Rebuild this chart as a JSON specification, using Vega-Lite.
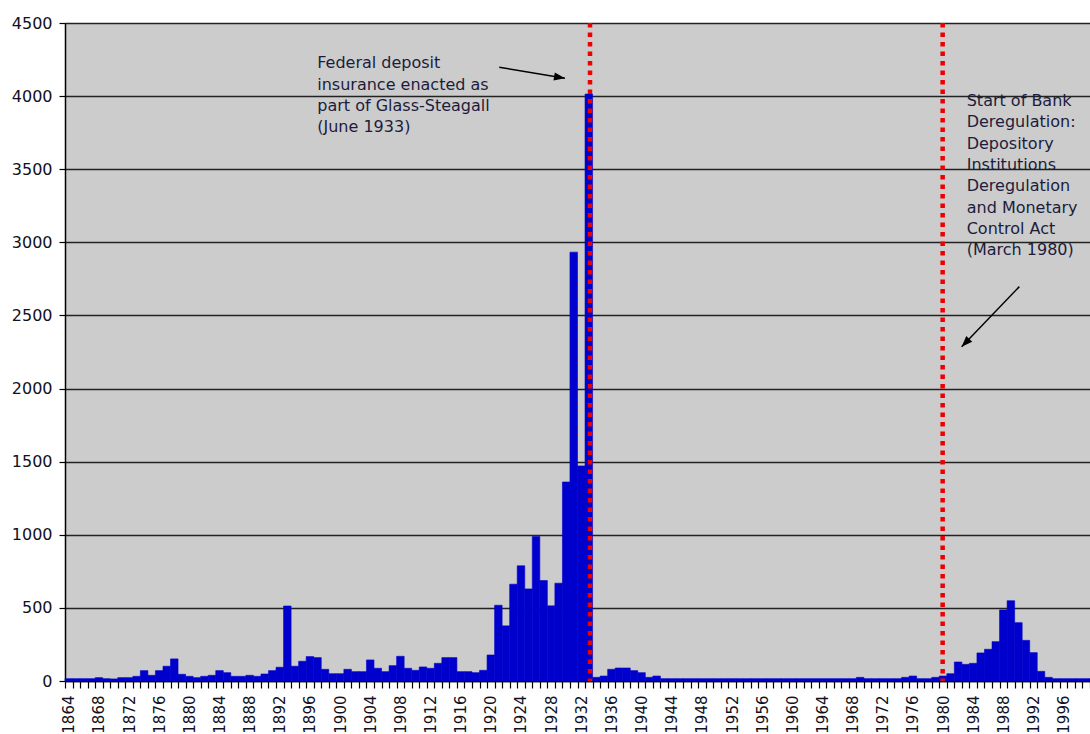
{
  "$schema": "https://vega.github.io/schema/vega-lite/v6.json",
  "autosize": {"type": "none"},
  "padding": {"left": 65, "top": 23, "right": 0, "bottom": 53},
  "width": 1025,
  "height": 658,
  "background": "white",
  "config": {
    "view": {"fill": "#cccccc", "stroke": null},
    "font": "DejaVu Sans",
    "axis": {
      "labelFont": "DejaVu Sans",
      "labelFontSize": 16,
      "labelColor": "#111122",
      "domainColor": "#000000",
      "domainWidth": 1.5,
      "tickColor": "#000000",
      "tickWidth": 1.2
    }
  },
  "datasets": {
    "failures": [
      {"year": 1864, "failures": 16}, {"year": 1865, "failures": 16}, {"year": 1866, "failures": 16}, {"year": 1867, "failures": 16},
      {"year": 1868, "failures": 23}, {"year": 1869, "failures": 16}, {"year": 1870, "failures": 14}, {"year": 1871, "failures": 23},
      {"year": 1872, "failures": 23}, {"year": 1873, "failures": 32}, {"year": 1874, "failures": 71}, {"year": 1875, "failures": 39},
      {"year": 1876, "failures": 71}, {"year": 1877, "failures": 101}, {"year": 1878, "failures": 151}, {"year": 1879, "failures": 46},
      {"year": 1880, "failures": 32}, {"year": 1881, "failures": 23}, {"year": 1882, "failures": 32}, {"year": 1883, "failures": 39},
      {"year": 1884, "failures": 71}, {"year": 1885, "failures": 57}, {"year": 1886, "failures": 32}, {"year": 1887, "failures": 32},
      {"year": 1888, "failures": 39}, {"year": 1889, "failures": 32}, {"year": 1890, "failures": 48}, {"year": 1891, "failures": 71},
      {"year": 1892, "failures": 94}, {"year": 1893, "failures": 513}, {"year": 1894, "failures": 101}, {"year": 1895, "failures": 135},
      {"year": 1896, "failures": 167}, {"year": 1897, "failures": 160}, {"year": 1898, "failures": 80}, {"year": 1899, "failures": 50},
      {"year": 1900, "failures": 50}, {"year": 1901, "failures": 80}, {"year": 1902, "failures": 64}, {"year": 1903, "failures": 64},
      {"year": 1904, "failures": 144}, {"year": 1905, "failures": 87}, {"year": 1906, "failures": 64}, {"year": 1907, "failures": 105},
      {"year": 1908, "failures": 169}, {"year": 1909, "failures": 87}, {"year": 1910, "failures": 73}, {"year": 1911, "failures": 96},
      {"year": 1912, "failures": 87}, {"year": 1913, "failures": 121}, {"year": 1914, "failures": 160}, {"year": 1915, "failures": 160},
      {"year": 1916, "failures": 64}, {"year": 1917, "failures": 64}, {"year": 1918, "failures": 57}, {"year": 1919, "failures": 73},
      {"year": 1920, "failures": 178}, {"year": 1921, "failures": 518}, {"year": 1922, "failures": 377}, {"year": 1923, "failures": 662},
      {"year": 1924, "failures": 788}, {"year": 1925, "failures": 630}, {"year": 1926, "failures": 989}, {"year": 1927, "failures": 687},
      {"year": 1928, "failures": 514}, {"year": 1929, "failures": 669}, {"year": 1930, "failures": 1361}, {"year": 1931, "failures": 2933},
      {"year": 1932, "failures": 1471}, {"year": 1933, "failures": 4014}, {"year": 1934, "failures": 25}, {"year": 1935, "failures": 34},
      {"year": 1936, "failures": 80}, {"year": 1937, "failures": 89}, {"year": 1938, "failures": 89}, {"year": 1939, "failures": 71},
      {"year": 1940, "failures": 57}, {"year": 1941, "failures": 25}, {"year": 1942, "failures": 34}, {"year": 1943, "failures": 16},
      {"year": 1944, "failures": 16}, {"year": 1945, "failures": 16}, {"year": 1946, "failures": 16}, {"year": 1947, "failures": 16},
      {"year": 1948, "failures": 16}, {"year": 1949, "failures": 16}, {"year": 1950, "failures": 16}, {"year": 1951, "failures": 16},
      {"year": 1952, "failures": 16}, {"year": 1953, "failures": 16}, {"year": 1954, "failures": 16}, {"year": 1955, "failures": 16},
      {"year": 1956, "failures": 16}, {"year": 1957, "failures": 16}, {"year": 1958, "failures": 16}, {"year": 1959, "failures": 16},
      {"year": 1960, "failures": 16}, {"year": 1961, "failures": 16}, {"year": 1962, "failures": 16}, {"year": 1963, "failures": 16},
      {"year": 1964, "failures": 16}, {"year": 1965, "failures": 16}, {"year": 1966, "failures": 16}, {"year": 1967, "failures": 16},
      {"year": 1968, "failures": 16}, {"year": 1969, "failures": 25}, {"year": 1970, "failures": 16}, {"year": 1971, "failures": 16},
      {"year": 1972, "failures": 16}, {"year": 1973, "failures": 16}, {"year": 1974, "failures": 16}, {"year": 1975, "failures": 25},
      {"year": 1976, "failures": 34}, {"year": 1977, "failures": 16}, {"year": 1978, "failures": 16}, {"year": 1979, "failures": 25},
      {"year": 1980, "failures": 34}, {"year": 1981, "failures": 50}, {"year": 1982, "failures": 130}, {"year": 1983, "failures": 114},
      {"year": 1984, "failures": 121}, {"year": 1985, "failures": 192}, {"year": 1986, "failures": 217}, {"year": 1987, "failures": 269},
      {"year": 1988, "failures": 486}, {"year": 1989, "failures": 549}, {"year": 1990, "failures": 399}, {"year": 1991, "failures": 278},
      {"year": 1992, "failures": 194}, {"year": 1993, "failures": 66}, {"year": 1994, "failures": 25}, {"year": 1995, "failures": 16},
      {"year": 1996, "failures": 16}, {"year": 1997, "failures": 16}, {"year": 1998, "failures": 16}, {"year": 1999, "failures": 16}
    ],
    "laws": [
      {"law": "Glass-Steagall", "yr": 1933.66},
      {"law": "DIDMCA", "yr": 1980.45}
    ],
    "arrows": [
      {"id": "glass", "yr": 1921.62, "v": 4197, "yr2": 1930.34, "v2": 4122},
      {"id": "dereg", "yr": 1990.62, "v": 2697, "yr2": 1982.97, "v2": 2286}
    ],
    "notes": [
      {"yr": 1897.47, "v": 4190, "label": ["Federal deposit", "insurance enacted as", "part of Glass-Steagall", "(June 1933)"]},
      {"yr": 1983.64, "v": 3932, "label": ["Start of Bank", "Deregulation:", "Depository", "Institutions", "Deregulation", "and Monetary", "Control Act", "(March 1980)"]}
    ]
  },
  "layer": [
    {
      "data": {"name": "failures"},
      "mark": {"type": "bar", "color": "#0000cc", "stroke": "#0000cc", "strokeWidth": 0.6},
      "encoding": {
        "x": {
          "field": "year",
          "type": "ordinal",
          "scale": {"paddingInner": 0, "paddingOuter": 0},
          "axis": {
            "title": null,
            "labelAngle": -90,
            "labelFontSize": 15,
            "labelExpr": "(datum.value - 1864) % 4 == 0 ? datum.label : ''",
            "labelOverlap": false,
            "labelBound": false,
            "tickBand": "extent",
            "tickSize": 7,
            "labelPadding": 7,
            "grid": false
          }
        },
        "y": {
          "field": "failures",
          "type": "quantitative",
          "scale": {"domain": [0, 4500], "nice": false},
          "axis": {
            "title": null,
            "format": "d",
            "values": [0, 500, 1000, 1500, 2000, 2500, 3000, 3500, 4000, 4500],
            "grid": true,
            "gridColor": "#222222",
            "gridWidth": 1.3,
            "gridOpacity": 1,
            "tickSize": 6,
            "labelPadding": 7
          }
        }
      }
    },
    {
      "layer": [
        {
          "data": {"name": "laws"},
          "mark": {"type": "rule", "color": "#ee0000", "strokeWidth": 4.5, "strokeDash": [4.5, 5]},
          "encoding": {
            "x": {"field": "yr", "type": "quantitative", "scale": {"domain": [1864, 2000], "nice": false, "zero": false}, "axis": null}
          }
        },
        {
          "data": {"name": "arrows"},
          "mark": {"type": "rule", "color": "#000000", "strokeWidth": 1.5},
          "encoding": {
            "x": {"field": "yr", "type": "quantitative", "scale": {"domain": [1864, 2000], "nice": false, "zero": false}, "axis": null},
            "x2": {"field": "yr2"},
            "y": {"field": "v", "type": "quantitative", "scale": {"domain": [0, 4500], "nice": false}, "title": null},
            "y2": {"field": "v2"}
          }
        },
        {
          "data": {"name": "arrows"},
          "transform": [{"filter": "datum.id == 'glass'"}],
          "mark": {"type": "point", "shape": "M0,0 L-2,-0.75 L-2,0.75 Z", "filled": true, "color": "#000000", "opacity": 1, "size": 121, "angle": 9.5},
          "encoding": {
            "x": {"field": "yr2", "type": "quantitative", "scale": {"domain": [1864, 2000], "nice": false, "zero": false}, "axis": null},
            "y": {"field": "v2", "type": "quantitative", "scale": {"domain": [0, 4500], "nice": false}, "title": null}
          }
        },
        {
          "data": {"name": "arrows"},
          "transform": [{"filter": "datum.id == 'dereg'"}],
          "mark": {"type": "point", "shape": "M0,0 L-2,-0.75 L-2,0.75 Z", "filled": true, "color": "#000000", "opacity": 1, "size": 121, "angle": 133.8},
          "encoding": {
            "x": {"field": "yr2", "type": "quantitative", "scale": {"domain": [1864, 2000], "nice": false, "zero": false}, "axis": null},
            "y": {"field": "v2", "type": "quantitative", "scale": {"domain": [0, 4500], "nice": false}, "title": null}
          }
        },
        {
          "data": {"name": "notes"},
          "mark": {"type": "text", "align": "left", "baseline": "alphabetic", "fontSize": 16, "lineHeight": 21.3, "color": "#1c1c3c", "font": "DejaVu Sans"},
          "encoding": {
            "x": {"field": "yr", "type": "quantitative", "scale": {"domain": [1864, 2000], "nice": false, "zero": false}, "axis": null},
            "y": {"field": "v", "type": "quantitative", "scale": {"domain": [0, 4500], "nice": false}, "title": null},
            "text": {"field": "label"}
          }
        }
      ]
    }
  ],
  "resolve": {"scale": {"x": "independent"}}
}
